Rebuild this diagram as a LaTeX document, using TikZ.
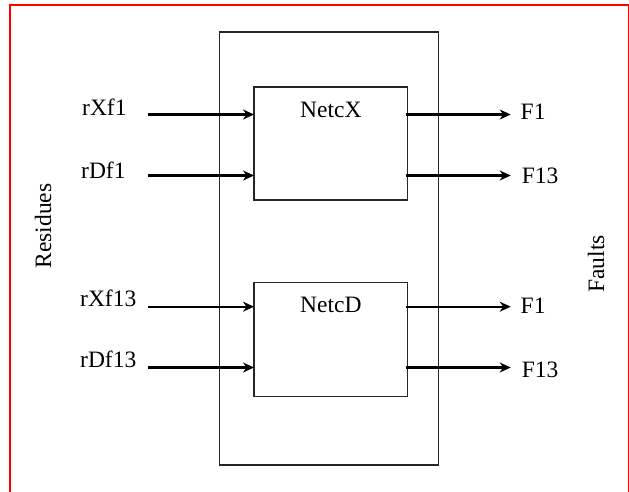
\documentclass[tikz,border=0pt]{standalone}
\usepackage{fontspec}
\setmainfont{Liberation Serif}
\usetikzlibrary{arrows.meta}
\begin{document}
\begin{tikzpicture}[x=1pt,y=-1pt,
  txt/.style={font=\fontsize{23.5}{28}\selectfont, inner sep=0pt},
  boxnode/.style={draw=black!85, line width=1.5pt, inner sep=0pt, outer sep=0pt},
  arr/.style={line width=2.2pt, -{Stealth[length=11pt,width=10pt,inset=3.5pt]}},
  lab/.style={anchor=north, yshift=-14.5pt, txt}
]
\useasboundingbox (0,0) rectangle (629,491);
\clip (0,0) rectangle (629,491);
% page frame
\draw[red, line width=2pt] (9.5,4.5) rectangle (628.8,500);
% outer container
\node[boxnode, minimum width=219.2pt, minimum height=433pt] (outer) at (329.1,248.5) {};
% inner boxes
\node[boxnode, minimum width=153.7pt, minimum height=113pt,
      label={[lab]north:NetcX}] (netcx) at (330.85,143.5) {};
\node[boxnode, minimum width=153.7pt, minimum height=114pt,
      label={[lab]north:NetcD}] (netcd) at (330.85,339.7) {};
% side labels
\node[txt, rotate=90] (res) at (43,226) {Residues};
\node[txt, rotate=90] (flt) at (596,264) {Faults};
% input start points
\coordinate (i1) at (148,114.5);
\coordinate (i2) at (148,175.5);
\coordinate (i3) at (148,306.7);
\coordinate (i4) at (148,367.5);
% output end points
\coordinate (o1) at (510.7,114.5);
\coordinate (o2) at (510.7,175.5);
\coordinate (o3) at (510.7,306.7);
\coordinate (o4) at (510.7,367.5);
% input labels
\node[txt, anchor=base west] (l1) at (82,115) {rXf1};
\node[txt, anchor=base west] (l2) at (81,178) {rDf1};
\node[txt, anchor=base west] (l3) at (80,306.7) {rXf13};
\node[txt, anchor=base west] (l4) at (80,367.7) {rDf13};
% output labels
\node[txt, anchor=west] (f1) at (520.5,111.5) {F1};
\node[txt, anchor=west] (f2) at (521.7,176) {F13};
\node[txt, anchor=west] (f3) at (520.5,306) {F1};
\node[txt, anchor=west] (f4) at (521.7,370) {F13};
% arrows
\draw[arr] (i1) -- (i1 -| netcx.west);
\draw[arr] (i2) -- (i2 -| netcx.west);
\draw[arr] (i3) -- (i3 -| netcd.west);
\draw[arr] (i4) -- (i4 -| netcd.west);
\draw[arr] ([xshift=-2pt]o1 -| netcx.east) -- (o1);
\draw[arr] ([xshift=-2pt]o2 -| netcx.east) -- (o2);
\draw[arr] ([xshift=-2pt]o3 -| netcd.east) -- (o3);
\draw[arr] ([xshift=-2pt]o4 -| netcd.east) -- (o4);
\end{tikzpicture}
\end{document}
